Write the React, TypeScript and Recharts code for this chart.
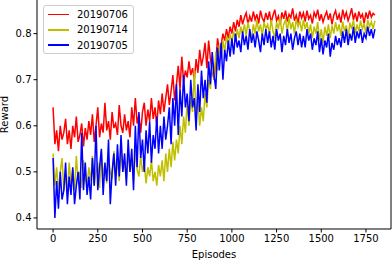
import React from "react";
import { LineChart, Line, XAxis, YAxis, ReferenceLine } from "recharts";

// episode of each sample
const episodes = [
  0, 10, 20, 30, 40, 50, 60, 70, 80, 90, 100, 110, 120, 130, 140, 150, 160, 170, 180, 190,
  200, 210, 220, 230, 240, 250, 260, 270, 280, 290, 300, 310, 320, 330, 340, 350, 360, 370, 380, 390,
  400, 410, 420, 430, 440, 450, 460, 470, 480, 490, 500, 510, 520, 530, 540, 550, 560, 570, 580, 590,
  600, 610, 620, 630, 640, 650, 660, 670, 680, 690, 700, 710, 720, 730, 740, 750, 760, 770, 780, 790,
  800, 810, 820, 830, 840, 850, 860, 870, 880, 890, 900, 910, 920, 930, 940, 950, 960, 970, 980, 990,
  1000, 1010, 1020, 1030, 1040, 1050, 1060, 1070, 1080, 1090, 1100, 1110, 1120, 1130, 1140, 1150, 1160, 1170, 1180, 1190,
  1200, 1210, 1220, 1230, 1240, 1250, 1260, 1270, 1280, 1290, 1300, 1310, 1320, 1330, 1340, 1350, 1360, 1370, 1380, 1390,
  1400, 1410, 1420, 1430, 1440, 1450, 1460, 1470, 1480, 1490, 1500, 1510, 1520, 1530, 1540, 1550, 1560, 1570, 1580, 1590,
  1600, 1610, 1620, 1630, 1640, 1650, 1660, 1670, 1680, 1690, 1700, 1710, 1720, 1730, 1740, 1750, 1760, 1770, 1780, 1790,
  1800,
];

const run0706 = [
  0.64, 0.56, 0.59, 0.545, 0.6, 0.57, 0.585, 0.615, 0.56, 0.59, 0.55, 0.6, 0.575, 0.62, 0.565, 0.58, 0.605, 0.555, 0.595, 0.57,
  0.61, 0.58, 0.625, 0.565, 0.6, 0.64, 0.575, 0.605, 0.585, 0.65, 0.59, 0.61, 0.57, 0.63, 0.595, 0.605, 0.58, 0.645, 0.6, 0.585,
  0.625, 0.59, 0.61, 0.575, 0.64, 0.6, 0.66, 0.605, 0.625, 0.585, 0.63, 0.65, 0.6, 0.635, 0.61, 0.66, 0.615, 0.64, 0.6, 0.655,
  0.625, 0.67, 0.63, 0.66, 0.69, 0.645, 0.675, 0.71, 0.655, 0.69, 0.73, 0.68, 0.75, 0.695, 0.72, 0.705, 0.74, 0.71, 0.725, 0.7,
  0.745, 0.715, 0.765, 0.73, 0.75, 0.78, 0.725, 0.785, 0.745, 0.72, 0.7, 0.74, 0.79, 0.765, 0.775, 0.8, 0.785, 0.81, 0.79, 0.815,
  0.8, 0.825, 0.805, 0.83, 0.815, 0.84, 0.82, 0.835, 0.845, 0.82, 0.838, 0.826, 0.848, 0.83, 0.842, 0.822, 0.85, 0.834, 0.826, 0.845,
  0.83, 0.848, 0.824, 0.84, 0.852, 0.828, 0.838, 0.82, 0.846, 0.832, 0.85, 0.826, 0.842, 0.835, 0.855, 0.828, 0.84, 0.822, 0.848, 0.834,
  0.845, 0.826, 0.85, 0.832, 0.84, 0.822, 0.846, 0.836, 0.852, 0.828, 0.842, 0.825, 0.838, 0.848, 0.83, 0.844, 0.82, 0.84, 0.85, 0.83,
  0.842, 0.824, 0.852, 0.834, 0.846, 0.828, 0.84, 0.855, 0.83, 0.845, 0.826, 0.848, 0.835, 0.842, 0.822, 0.846, 0.832, 0.85, 0.836, 0.844,
  0.84,
];

const run0714 = [
  0.54, 0.47, 0.51, 0.455, 0.5, 0.53, 0.46, 0.495, 0.45, 0.52, 0.475, 0.505, 0.46, 0.535, 0.48, 0.5, 0.465, 0.525, 0.485, 0.47,
  0.51, 0.48, 0.535, 0.47, 0.5, 0.52, 0.465, 0.545, 0.49, 0.515, 0.475, 0.53, 0.5, 0.485, 0.545, 0.49, 0.525, 0.48, 0.55, 0.5,
  0.52, 0.485, 0.545, 0.5, 0.53, 0.48, 0.55, 0.505, 0.49, 0.535, 0.5, 0.52, 0.475, 0.51, 0.49, 0.525, 0.48, 0.5, 0.47, 0.515,
  0.49, 0.525, 0.48, 0.54, 0.5, 0.55, 0.51, 0.565, 0.525, 0.57, 0.54, 0.6, 0.56, 0.62, 0.585, 0.65, 0.6, 0.66, 0.63, 0.72,
  0.62, 0.655, 0.6, 0.64, 0.61, 0.67, 0.64, 0.7, 0.68, 0.74, 0.7, 0.76, 0.72, 0.775, 0.745, 0.785, 0.76, 0.795, 0.775, 0.8,
  0.78, 0.805, 0.785, 0.81, 0.79, 0.815, 0.8, 0.82, 0.795, 0.825, 0.805, 0.79, 0.82, 0.8, 0.83, 0.805, 0.82, 0.795, 0.825, 0.81,
  0.82, 0.8, 0.83, 0.805, 0.79, 0.825, 0.81, 0.835, 0.8, 0.82, 0.83, 0.805, 0.835, 0.81, 0.825, 0.8, 0.832, 0.815, 0.828, 0.805,
  0.83, 0.81, 0.825, 0.8, 0.82, 0.79, 0.815, 0.8, 0.825, 0.785, 0.81, 0.78, 0.815, 0.795, 0.82, 0.79, 0.818, 0.8, 0.825, 0.805,
  0.82, 0.795, 0.826, 0.805, 0.818, 0.79, 0.824, 0.81, 0.83, 0.8, 0.82, 0.805, 0.828, 0.81, 0.822, 0.8, 0.83, 0.815, 0.826, 0.81,
  0.828,
];

const run0705 = [
  0.53, 0.4, 0.48, 0.42, 0.5, 0.44, 0.46, 0.52, 0.43, 0.49, 0.45, 0.51, 0.43, 0.47, 0.5, 0.44, 0.585, 0.46, 0.52, 0.45,
  0.49, 0.44, 0.53, 0.47, 0.6, 0.46, 0.51, 0.55, 0.45, 0.52, 0.48, 0.57, 0.43, 0.5, 0.54, 0.47, 0.56, 0.49, 0.58, 0.5,
  0.54, 0.47, 0.57, 0.5, 0.55, 0.46, 0.6, 0.51, 0.63, 0.53, 0.57, 0.5, 0.59, 0.54, 0.61, 0.52, 0.58, 0.55, 0.62, 0.54,
  0.6, 0.55, 0.62, 0.57, 0.6, 0.64, 0.56, 0.66, 0.6, 0.69, 0.58, 0.68, 0.62, 0.71, 0.64, 0.67, 0.61, 0.7, 0.64, 0.66,
  0.59, 0.69, 0.63, 0.72, 0.66, 0.7, 0.65, 0.74, 0.69, 0.76, 0.71, 0.68, 0.77, 0.72, 0.78, 0.7, 0.765, 0.74, 0.785, 0.75,
  0.79, 0.755, 0.8, 0.77, 0.785, 0.76, 0.805, 0.775, 0.795, 0.765, 0.81, 0.78, 0.8, 0.77, 0.805, 0.785, 0.76, 0.8, 0.775, 0.81,
  0.78, 0.805, 0.77, 0.795, 0.765, 0.81, 0.785, 0.8, 0.76, 0.795, 0.775, 0.81, 0.78, 0.8, 0.765, 0.79, 0.805, 0.775, 0.8, 0.77,
  0.795, 0.77, 0.81, 0.785, 0.8, 0.765, 0.79, 0.775, 0.805, 0.76, 0.79, 0.755, 0.785, 0.77, 0.8, 0.75, 0.78, 0.765, 0.795, 0.775,
  0.79, 0.77, 0.805, 0.78, 0.81, 0.775, 0.8, 0.785, 0.815, 0.78, 0.805, 0.79, 0.81, 0.78, 0.8, 0.79, 0.815, 0.795, 0.81, 0.79,
  0.81,
];

const xTicks = [0, 250, 500, 750, 1000, 1250, 1500, 1750];
const yTicks = [0.4, 0.5, 0.6, 0.7, 0.8];

const series = [
  { key: "r0706", name: "20190706", color: "#ff0000" },
  { key: "r0714", name: "20190714", color: "#bfbf00" },
  { key: "r0705", name: "20190705", color: "#0000ff" },
];

const rows = episodes.map((ep, i) => ({
  ep,
  r0706: run0706[i],
  r0714: run0714[i],
  r0705: run0705[i],
}));

const font = "'DejaVu Sans', sans-serif";

const LegendBox = () => (
  <div
    style={{
      position: "absolute",
      left: 43,
      top: 5,
      width: 91,
      height: 49,
      border: "1px solid #cccccc",
      borderRadius: 3,
      background: "rgba(255,255,255,0.8)",
      fontFamily: font,
      fontSize: 10,
      color: "#000",
      paddingTop: 1,
      boxSizing: "border-box",
    }}
  >
    {series.map((s) => (
      <div key={s.key} style={{ display: "flex", alignItems: "center", height: 15.3, paddingLeft: 4 }}>
        <span style={{ display: "inline-block", width: 21, height: 1.5, background: s.color, marginRight: 8 }} />
        <span>{s.name}</span>
      </div>
    ))}
  </div>
);

export default function App() {
  return (
    <div style={{ position: "relative", width: 392, height: 262 }}>
      <style>{`body{margin:0}`}</style>
      <LineChart width={392} height={262} data={rows} margin={{ top: 0, right: 1, bottom: 0, left: 0 }}>
        <XAxis
          dataKey="ep"
          type="number"
          domain={[-90, 1890]}
          ticks={xTicks}
          height={33}
          tickSize={3.5}
          stroke="#000"
          tick={{ fontSize: 10, fill: "#000", fontFamily: font }}
          label={{ value: "Episodes", position: "insideBottom", offset: 4, fontSize: 10, fill: "#000", fontFamily: font }}
        />
        <YAxis
          type="number"
          domain={[0.376, 0.873]}
          ticks={yTicks}
          width={37}
          tickSize={3.5}
          stroke="#000"
          allowDataOverflow
          tickFormatter={(v: number) => v.toFixed(1)}
          tick={{ fontSize: 10, fill: "#000", fontFamily: font }}
          label={{
            value: "Reward",
            angle: -90,
            position: "insideLeft",
            offset: 4,
            fontSize: 10,
            fill: "#000",
            fontFamily: font,
            style: { textAnchor: "middle" },
          }}
        />
        <ReferenceLine x={1890} stroke="#000" strokeWidth={1} />
        {series.map((s) => (
          <Line
            key={s.key}
            type="linear"
            dataKey={s.key}
            name={s.name}
            stroke={s.color}
            strokeWidth={1.5}
            dot={false}
            isAnimationActive={false}
          />
        ))}
      </LineChart>
      <LegendBox />
    </div>
  );
}
